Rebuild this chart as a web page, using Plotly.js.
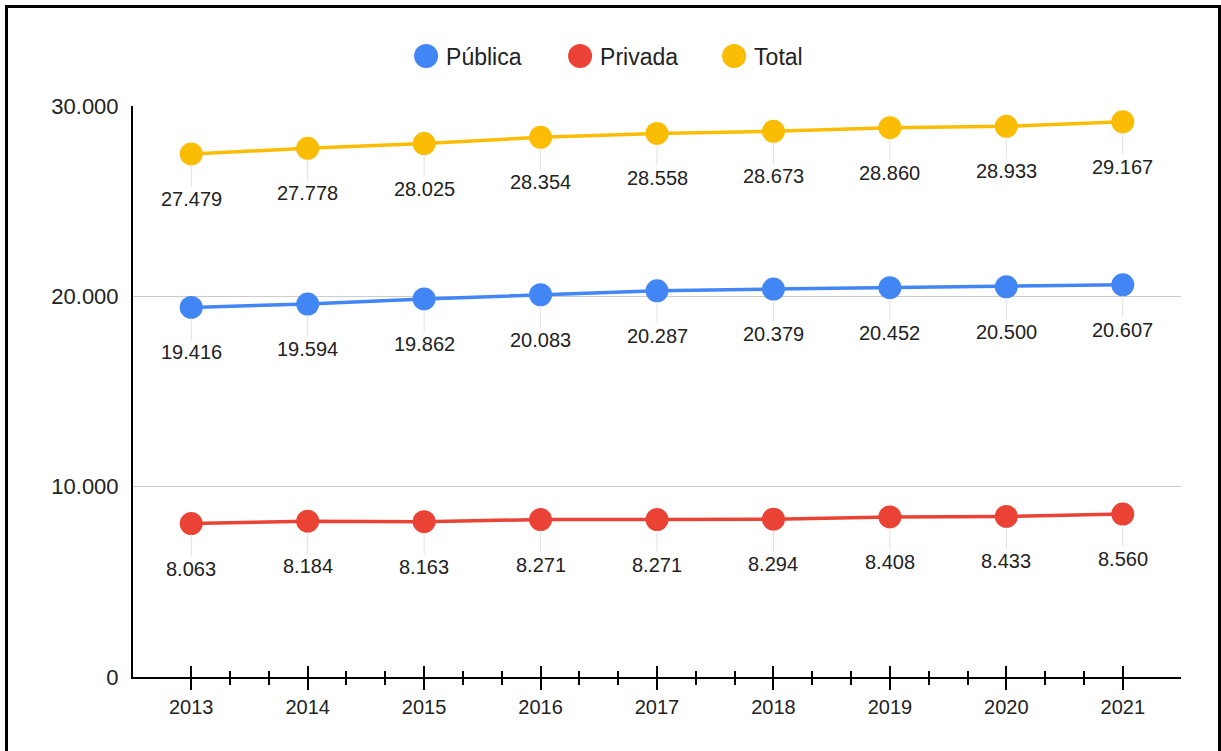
<!DOCTYPE html>
<html>
<head>
<meta charset="utf-8">
<script src="https://cdn.plot.ly/plotly-3.0.1.min.js"></script>
<style>
  html, body { margin:0; padding:0; background:#fff; overflow:hidden; }
  #frame { position:absolute; left:5px; top:5px; width:1216px; height:800px; border:3px solid #000; box-sizing:border-box; }
  #chart { position:absolute; left:0; top:0; width:1221px; height:751px; }
</style>
</head>
<body>
<div id="frame"></div>
<div id="chart"></div>
<script>
const years = [2013, 2014, 2015, 2016, 2017, 2018, 2019, 2020, 2021];
const publica = [19416, 19594, 19862, 20083, 20287, 20379, 20452, 20500, 20607];
const privada = [8063, 8184, 8163, 8271, 8271, 8294, 8408, 8433, 8560];
const total = [27479, 27778, 28025, 28354, 28558, 28673, 28860, 28933, 29167];
const seriesNames = ['Pública', 'Privada', 'Total'];
const seriesColors = ['#4285F4', '#EA4335', '#FBBC04'];
const seriesValues = [publica, privada, total];
const yTicks = [0, 10000, 20000, 30000];

function fmt(v) { return String(v).replace(/\B(?=(\d{3})+(?!\d))/g, '.'); }

// minor ticks: two between consecutive years
const minorVals = [];
for (let i = 0; i < years.length - 1; i++) {
  minorVals.push(years[i] + 1/3, years[i] + 2/3);
}

const FONT = 'Liberation Sans, Arial, sans-serif';
const traces = [];
const annotations = [];
seriesValues.forEach((vals, i) => {
  traces.push({
    x: years, y: vals, type: 'scatter', mode: 'lines+markers',
    name: seriesNames[i], legendgroup: seriesNames[i], showlegend: false,
    line: { color: seriesColors[i], width: 3.5 },
    marker: { color: seriesColors[i], size: 23 },
    hoverinfo: 'skip'
  });
  vals.forEach((v, j) => {
    annotations.push({
      x: years[j], y: v, xref: 'x', yref: 'y',
      text: fmt(v), showarrow: true, arrowhead: 0, arrowwidth: 1,
      arrowcolor: '#e0e0e0', ax: 0, ay: 45, standoff: 11,
      font: { family: FONT, size: 20, color: '#222' }
    });
  });
});
// legend entries (markers only), on overlay axis
seriesNames.forEach((n, i) => {
  traces.push({
    x: [null], y: [null], type: 'scatter', mode: 'markers', xaxis: 'x2', yaxis: 'y',
    name: n, legendgroup: n, showlegend: true,
    marker: { color: seriesColors[i], size: 16 }
  });
});

const layout = {
  width: 1221, height: 751,
  margin: { l: 133, r: 40, t: 106, b: 74, autoexpand: false },
  paper_bgcolor: 'rgba(0,0,0,0)', plot_bgcolor: 'rgba(0,0,0,0)',
  font: { family: FONT, color: '#222' },
  showlegend: true,
  legend: {
    orientation: 'h', x: 0.481, xanchor: 'center', y: 1.0876, yanchor: 'middle',
    font: { family: FONT, size: 23, color: '#222' }, itemwidth: 30, tracegroupgap: 0,
    entrywidth: 109
  },
  xaxis: {
    range: [2012.5, 2021.5], tickvals: years, ticktext: years.map(String),
    ticks: 'outside', ticklen: 11, tickwidth: 2, tickcolor: '#000',
    minor: { ticks: 'outside', ticklen: 6, tickwidth: 2, tickcolor: '#000', tickmode: 'array', tickvals: minorVals, showgrid: false },
    showline: true, linecolor: '#000', linewidth: 2, showgrid: false, zeroline: false,
    tickfont: { family: FONT, size: 20, color: '#222' }, ticklabelstandoff: 0, fixedrange: true
  },
  xaxis2: {
    overlaying: 'x', anchor: 'y', range: [2012.5, 2021.5], tickvals: years,
    ticks: 'inside', ticklen: 11, tickwidth: 2, tickcolor: '#000',
    minor: { ticks: 'inside', ticklen: 6, tickwidth: 2, tickcolor: '#000', tickmode: 'array', tickvals: minorVals, showgrid: false },
    showticklabels: false, showline: false, showgrid: false, zeroline: false, side: 'bottom'
  },
  yaxis: {
    range: [0, 30000], tickvals: yTicks, ticktext: yTicks.map(fmt),
    showgrid: true, gridcolor: '#cccccc', gridwidth: 1,
    showline: true, linecolor: '#000', linewidth: 2, zeroline: false, ticks: '',
    tickfont: { family: FONT, size: 22, color: '#222' }, ticklabelstandoff: 8
  },
  annotations: annotations
};

Plotly.newPlot('chart', traces, layout, { displayModeBar: false, staticPlot: true }).then(() => {
  document.querySelectorAll('.legend .legendpoints path.scatterpts').forEach(p => {
    const t = p.getAttribute('transform') || '';
    p.setAttribute('transform', t + ' scale(1.5)');
  });
});
</script>
</body>
</html>
